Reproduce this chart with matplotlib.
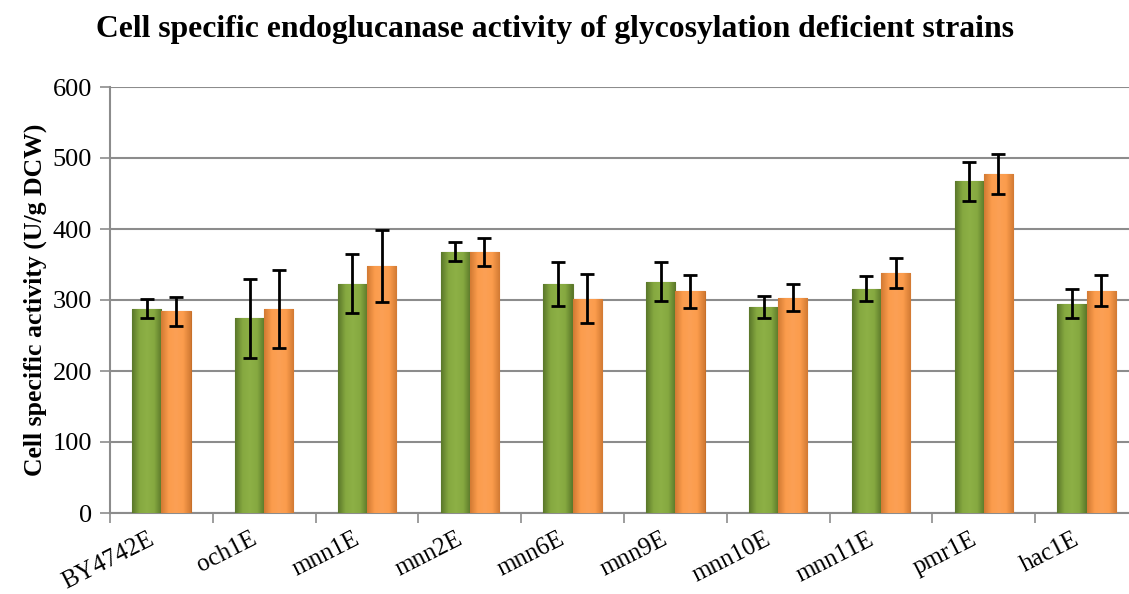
import matplotlib
matplotlib.use("Agg")
import matplotlib.pyplot as plt
from matplotlib.colors import LinearSegmentedColormap
from matplotlib.transforms import ScaledTranslation
import numpy as np

categories = ["BY4742E", "och1E", "mnn1E", "mnn2E", "mnn6E", "mnn9E",
              "mnn10E", "mnn11E", "pmr1E", "hac1E"]
green_vals = [288, 274, 323, 368, 322, 326, 290, 316, 467, 295]
green_err = [14, 55, 42, 13, 31, 28, 15, 18, 27, 20]
orange_vals = [284, 287, 348, 368, 302, 312, 303, 338, 478, 313]
orange_err = [20, 55, 51, 20, 35, 23, 19, 21, 28, 22]
yticks = [0, 100, 200, 300, 400, 500, 600]

plt.rcParams['font.family'] = ['Liberation Serif', 'DejaVu Serif']

fig = plt.figure(figsize=(11.29, 5.94), dpi=100)
ax = fig.add_axes([110/1129, 81/594, 1028/1129, 426/594])

x = np.arange(len(categories))
w = 0.285
grey = '#8c8c8c'

green_cmap = LinearSegmentedColormap.from_list(
    'g', ['#5a772a', '#86a940', '#8db046', '#86a940', '#5a772a'])
orange_cmap = LinearSegmentedColormap.from_list(
    'o', ['#d27a33', '#fb9c4c', '#fca055', '#fb9c4c', '#d27a33'])

bars_g = ax.bar(x - w/2, green_vals, width=w, color='#7b9a3a',
                edgecolor='#5d7a2a', linewidth=0.8, zorder=3)
bars_o = ax.bar(x + w/2, orange_vals, width=w, color='#f99b4b',
                edgecolor='#c8702a', linewidth=0.8, zorder=3)

grad = np.linspace(0, 1, 64).reshape(1, -1)
for bars, cmap in ((bars_g, green_cmap), (bars_o, orange_cmap)):
    for b in bars:
        x0, y0 = b.get_x(), b.get_y()
        im = ax.imshow(grad, cmap=cmap, aspect='auto', zorder=3.1,
                       extent=(x0, x0 + b.get_width(), y0, y0 + b.get_height()),
                       interpolation='bicubic')
        im.set_clip_path(b)

ax.errorbar(x - w/2, green_vals, yerr=green_err, fmt='none', ecolor='black',
            elinewidth=2, capsize=5, capthick=2, zorder=4)
ax.errorbar(x + w/2, orange_vals, yerr=orange_err, fmt='none', ecolor='black',
            elinewidth=2, capsize=5, capthick=2, zorder=4)

ax.set_xlim(-0.5, len(categories) - 0.5)
ax.set_ylim(0, 600)
ax.set_yticks(yticks)
ax.yaxis.grid(True, color=grey, linewidth=1.5, zorder=0)
ax.set_axisbelow(True)

# category ticks between groups
ax.set_xticks(np.arange(len(categories) + 1) - 0.5, minor=False)
ax.set_xticklabels([])
ax.set_xticks(x, minor=True)
ax.set_xticklabels(categories, minor=True, rotation=27, ha='right',
                   rotation_mode='anchor', fontsize=18)
ax.tick_params(axis='x', which='minor', length=0, pad=11)
ax.tick_params(axis='x', which='major', length=7, width=1.2, color=grey,
               direction='out')
ax.tick_params(axis='y', length=7, width=1.2, color=grey, direction='out',
               labelsize=19, pad=6)
shift = ScaledTranslation(-14/100, 0, fig.dpi_scale_trans)
for lbl in ax.get_xticklabels(minor=True):
    lbl.set_transform(lbl.get_transform() + shift)

for s in ['top', 'right']:
    ax.spines[s].set_visible(False)
for s in ['left', 'bottom']:
    ax.spines[s].set_color(grey)
    ax.spines[s].set_linewidth(1.5)

ax.set_ylabel("Cell specific activity (U/g DCW)", fontsize=18.5,
              fontweight='bold', labelpad=4)
fig.text(555/1129, 1 - 30/594,
         "Cell specific endoglucanase activity of glycosylation deficient strains",
         ha='center', va='center', fontsize=22.8, fontweight='bold')

fig.savefig("out.png", dpi=100)
